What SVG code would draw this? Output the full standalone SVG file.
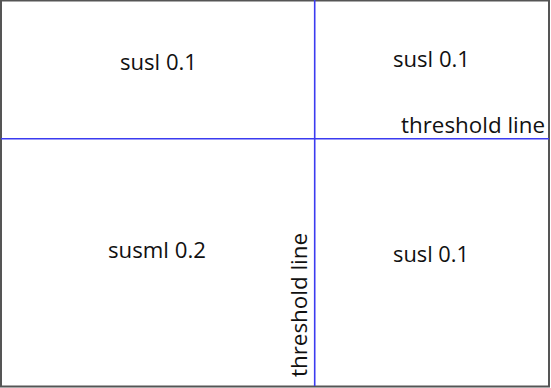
<svg xmlns="http://www.w3.org/2000/svg" width="551" height="388" viewBox="0 0 551 388">
<style>
.lbl{font-family:"Open Sans","Liberation Sans",sans-serif;font-size:21px;fill:#111}
.thr{stroke:#3b3bf0;stroke-width:1.6;fill:none}
</style>
<rect x="0" y="0" width="551" height="388" fill="#fff"/>
<rect x="1" y="0.5" width="548" height="386" fill="none" stroke="#555" stroke-width="2"/>
<g id="connectors">
<line class="thr" x1="314.7" y1="0" x2="314.7" y2="386"/>
<line class="thr" x1="1" y1="138.7" x2="549" y2="138.7"/>
</g>
<g id="q1"><text class="lbl" x="120" y="70" textLength="77" lengthAdjust="spacingAndGlyphs">susl 0.1</text></g>
<g id="q2"><text class="lbl" x="393" y="67" textLength="77" lengthAdjust="spacingAndGlyphs">susl 0.1</text></g>
<g id="q3"><text class="lbl" x="108" y="258" textLength="98" lengthAdjust="spacingAndGlyphs">susml 0.2</text></g>
<g id="q4"><text class="lbl" x="393" y="262" textLength="76" lengthAdjust="spacingAndGlyphs">susl 0.1</text></g>
<g id="threshold-h"><text class="lbl" x="401" y="133" textLength="144" lengthAdjust="spacingAndGlyphs">threshold line</text></g>
<g id="threshold-v"><text class="lbl" transform="translate(307,377) rotate(-90)" x="0" y="0" textLength="144" lengthAdjust="spacingAndGlyphs">threshold line</text></g>
</svg>
